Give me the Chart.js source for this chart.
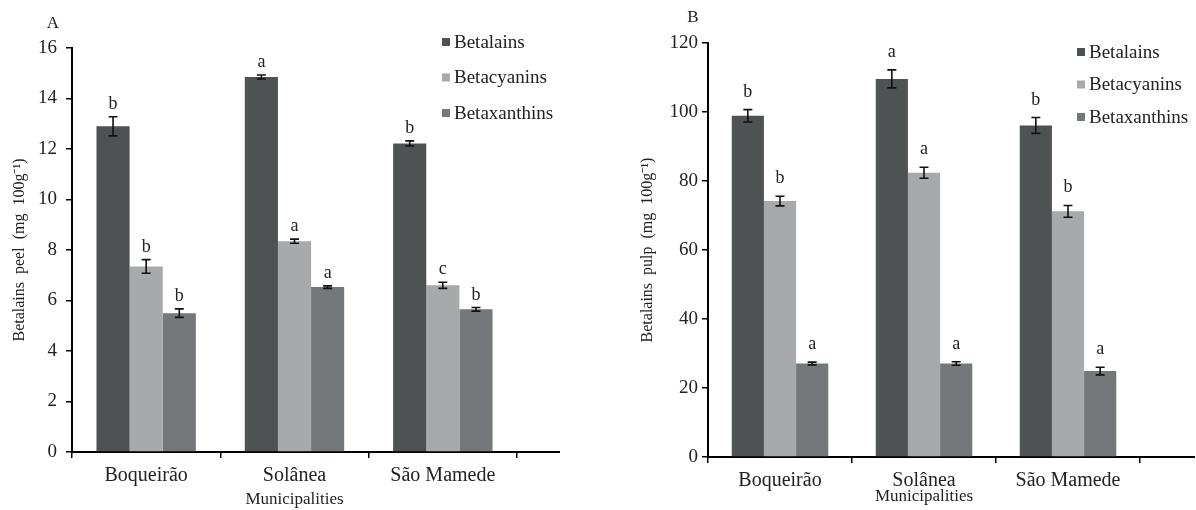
<!DOCTYPE html>
<html>
<head>
<meta charset="utf-8">
<script src="https://cdn.jsdelivr.net/npm/chart.js@4.4.1/dist/chart.umd.min.js"></script>
<style>
  body { margin: 0; background: #fff; width: 1196px; height: 510px; overflow: hidden; position: relative; }
  #peel { position: absolute; left: 0; top: 0; }
  #pulp { position: absolute; left: 600px; top: 0; }
</style>
</head>
<body>
<canvas id="peel" width="595" height="510"></canvas>
<canvas id="pulp" width="596" height="510"></canvas>
<script>
// categories and series
const municipalities = ["Boqueirão", "Solânea", "São Mamede"];
const seriesNames = ["Betalains", "Betacyanins", "Betaxanthins"];
const seriesColors = ["#4f5253", "#a7a9aa", "#75787a"];

// panel A - peel (mg 100g-1)
const peelBetalains = [12.9, 14.85, 12.22];
const peelBetacyanins = [7.35, 8.35, 6.6];
const peelBetaxanthins = [5.5, 6.53, 5.65];
const peelBetalainsErr = [0.38, 0.08, 0.1];
const peelBetacyaninsErr = [0.27, 0.08, 0.12];
const peelBetaxanthinsErr = [0.17, 0.05, 0.07];
const peelBetalainsLetters = ["b", "a", "b"];
const peelBetacyaninsLetters = ["b", "a", "c"];
const peelBetaxanthinsLetters = ["b", "a", "b"];
const peelTicks = [0, 2, 4, 6, 8, 10, 12, 14, 16];

// panel B - pulp (mg 100g-1)
const pulpBetalains = [98.9, 109.6, 96.1];
const pulpBetacyanins = [74.2, 82.4, 71.2];
const pulpBetaxanthins = [27.1, 27.1, 24.9];
const pulpBetalainsErr = [1.8, 2.6, 2.3];
const pulpBetacyaninsErr = [1.4, 1.6, 1.7];
const pulpBetaxanthinsErr = [0.4, 0.5, 1.1];
const pulpBetalainsLetters = ["b", "a", "b"];
const pulpBetacyaninsLetters = ["b", "a", "b"];
const pulpBetaxanthinsLetters = ["a", "a", "a"];
const pulpTicks = [0, 20, 40, 60, 80, 100, 120];

const serif = "'Liberation Serif', 'Times New Roman', serif";
Chart.defaults.font.family = serif;
Chart.defaults.color = "#222";

// error bars, significance letters, legend, panel letter, axis tail
const extras = {
  id: "extras",
  afterDatasetsDraw(chart, args, opts) {
    const ctx = chart.ctx;
    const y = chart.scales.y;
    ctx.save();
    chart.data.datasets.forEach((ds, i) => {
      chart.getDatasetMeta(i).data.forEach((bar, j) => {
        const v = ds.data[j], e = ds.errors[j];
        const top = y.getPixelForValue(v + e), bot = y.getPixelForValue(v - e);
        ctx.strokeStyle = "#111";
        ctx.lineWidth = 1.6;
        ctx.beginPath();
        ctx.moveTo(bar.x, top); ctx.lineTo(bar.x, bot);
        ctx.moveTo(bar.x - 4.5, top); ctx.lineTo(bar.x + 4.5, top);
        ctx.moveTo(bar.x - 4.5, bot); ctx.lineTo(bar.x + 4.5, bot);
        ctx.stroke();
        ctx.fillStyle = "#222";
        ctx.font = "18px " + serif;
        ctx.textAlign = "center";
        ctx.textBaseline = "alphabetic";
        ctx.fillText(ds.letters[j], bar.x, top - opts.letterGap);
      });
    });
    ctx.restore();
  },
  afterDraw(chart, args, opts) {
    const ctx = chart.ctx;
    const area = chart.chartArea;
    ctx.save();
    // axis line continues past the last category
    ctx.strokeStyle = "#000";
    ctx.lineWidth = 2;
    ctx.beginPath();
    ctx.moveTo(area.right, area.bottom);
    ctx.lineTo(opts.axisEnd, area.bottom);
    ctx.stroke();
    // legend
    ctx.font = "19px " + serif;
    ctx.textAlign = "left";
    ctx.textBaseline = "middle";
    chart.data.datasets.forEach((ds, i) => {
      const ly = opts.legendY + i * opts.legendGap;
      ctx.fillStyle = ds.backgroundColor;
      ctx.fillRect(opts.legendX, ly - 4, 8, 8);
      ctx.fillStyle = "#222";
      ctx.fillText(ds.label, opts.legendX + 12, ly + 1);
    });
    // panel letter
    ctx.font = "17px " + serif;
    ctx.textAlign = "center";
    ctx.fillText(opts.panel, opts.panelX, opts.panelY);
    ctx.restore();
  }
};

function makeChart(id, values, errors, letters, ticks, yTitle, box) {
  const datasets = seriesNames.map((name, i) => ({
    label: name,
    data: values[i],
    errors: errors[i],
    letters: letters[i],
    backgroundColor: seriesColors[i],
    borderWidth: 0,
    categoryPercentage: 0.67,
    barPercentage: 1.0
  }));
  return new Chart(document.getElementById(id), {
    type: "bar",
    data: { labels: municipalities, datasets: datasets },
    plugins: [extras],
    options: {
      responsive: false,
      devicePixelRatio: 1,
      animation: false,
      layout: { padding: { left: 0, top: box.top, right: box.right, bottom: 0 } },
      plugins: {
        legend: { display: false },
        tooltip: { enabled: false },
        extras: box.extras
      },
      scales: {
        x: {
          grid: { drawOnChartArea: false, offset: true, color: "#000", tickLength: 6, lineWidth: 1.5 },
          border: { color: "#000", width: 2 },
          ticks: { font: { size: 20 }, padding: 6, color: "#222" },
          title: { display: true, text: "Municipalities", font: { size: 17 }, padding: { top: 0, bottom: box.xTitlePad } },
          afterFit: (s) => { s.height = box.xHeight; }
        },
        y: {
          min: ticks[0],
          max: ticks[ticks.length - 1],
          afterBuildTicks: (s) => { s.ticks = ticks.map(v => ({ value: v })); },
          grid: { drawOnChartArea: false, color: "#000", tickLength: 6, lineWidth: 1.5 },
          border: { color: "#000", width: 2 },
          ticks: { font: { size: 19 }, padding: box.tickPad, color: "#222" },
          title: { display: true, text: yTitle, font: { size: 16 }, padding: { top: box.yTitlePad, bottom: 0 } },
          afterFit: (s) => { s.width = box.yWidth; }
        }
      }
    }
  });
}

makeChart("peel",
  [peelBetalains, peelBetacyanins, peelBetaxanthins],
  [peelBetalainsErr, peelBetacyaninsErr, peelBetaxanthinsErr],
  [peelBetalainsLetters, peelBetacyaninsLetters, peelBetaxanthinsLetters],
  peelTicks, "Betalains  peel  (mg  100g\u207B\u00B9)",
  { top: 48, right: 78, xHeight: 58, yWidth: 72, tickPad: 9, yTitlePad: 10, xTitlePad: 0,
    extras: { letterGap: 8, axisEnd: 560, legendX: 442, legendY: 42, legendGap: 35.5, panel: "A", panelX: 53, panelY: 24 } });

makeChart("pulp",
  [pulpBetalains, pulpBetacyanins, pulpBetaxanthins],
  [pulpBetalainsErr, pulpBetacyaninsErr, pulpBetaxanthinsErr],
  [pulpBetalainsLetters, pulpBetacyaninsLetters, pulpBetaxanthinsLetters],
  pulpTicks, "Betalains  pulp  (mg  100g\u207B\u00B9)",
  { top: 43, right: 56, xHeight: 53, yWidth: 108, tickPad: 4, yTitlePad: 38, xTitlePad: 3,
    extras: { letterGap: 13, axisEnd: 595, legendX: 477, legendY: 52, legendGap: 32.5, panel: "B", panelX: 93, panelY: 18 } });
</script>
</body>
</html>
